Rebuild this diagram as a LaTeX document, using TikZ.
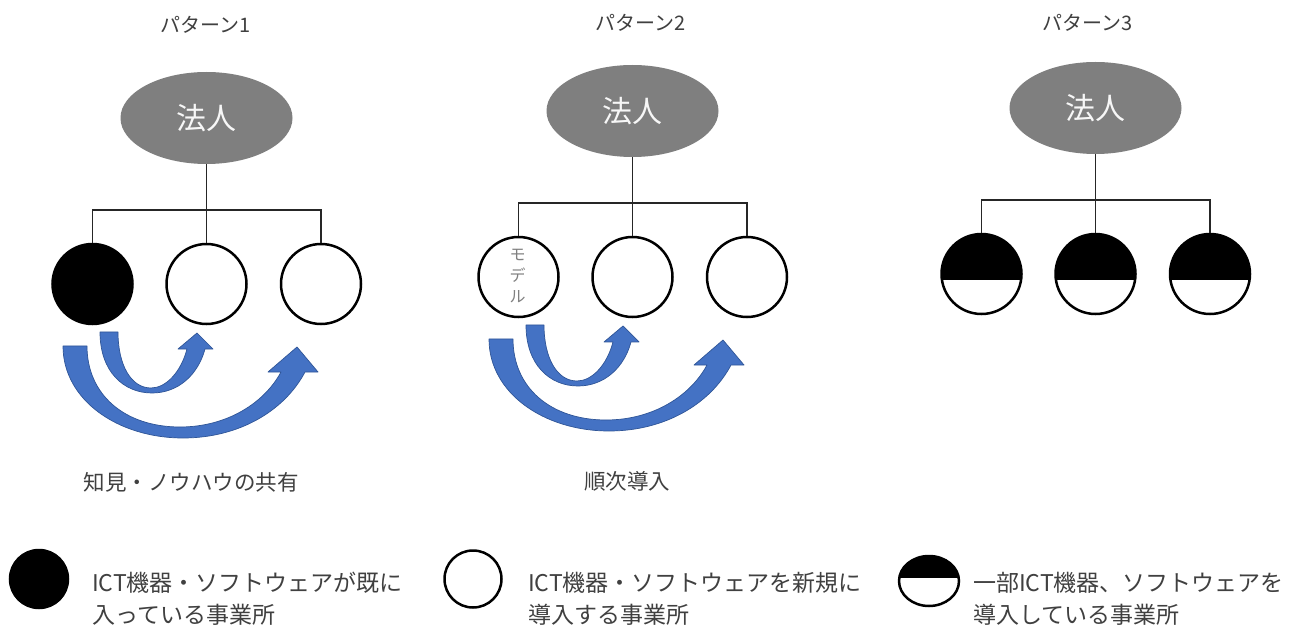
\documentclass[tikz,border=0pt]{standalone}
\usepackage{fontspec}
\setmainfont{Noto Sans CJK JP}
\usetikzlibrary{shapes.geometric}
\definecolor{txt}{HTML}{404040}
\definecolor{hgray}{HTML}{7F7F7F}
\definecolor{abl}{HTML}{4472C4}
\definecolor{abd}{HTML}{2F5597}
\tikzset{
  hojin/.style={ellipse, fill=hgray, minimum width=172pt, minimum height=92pt, inner sep=0pt,
    text=white!94!gray, font=\fontsize{30}{30}\selectfont},
  site/.style={circle, draw=black, line width=2.5pt, minimum size=80pt, inner sep=0pt, fill=white},
  sitefull/.style={site, fill=black},
  sitehalf/.style={site, path picture={\fill[black] ([yshift=-6pt]path picture bounding box.east) rectangle (path picture bounding box.north west);}},
  link/.style={draw=black!85, line width=1.4pt},
  curved/.style={fill=abl, draw=abd, line width=0.7pt, line join=round},
  ptitle/.style={text=txt, font=\fontsize{20}{20}\selectfont},
  pcaption/.style={text=txt, font=\fontsize{21.5}{22}\selectfont},
  legtext/.style={text=txt, anchor=west, align=left, inner sep=0pt, font=\fontsize{23}{32}\selectfont},
}
\begin{document}
\begin{tikzpicture}[x=1pt,y=-1pt]
\fill[white] (0,0) rectangle (1304,628);
\useasboundingbox (0,0) rectangle (1304,628);

% titles
\node[ptitle] (T1) at (206,25) {パターン1};
\node[ptitle] (T2) at (641,23) {パターン2};
\node[ptitle] (T3) at (1088,23) {パターン3};

% ---------- pattern 1 ----------
\begin{scope}
  \node[hojin] (E1) at (206.5,118) {法人};
  \node[sitefull] (A1) at (92.5,284) {};
  \node[site] (B1) at (206.5,284) {};
  \node[site] (C1) at (321,284) {};
  \coordinate (J1) at (206.5,210);
  \draw[link] (E1.south) -- (B1.north);
  \draw[link] (A1.north) |- (J1) -| (C1.north);
  \path[curved] (63,346) .. controls (63,400) and (118,438) .. (183,438)
     .. controls (240,438) and (285,410) .. (305,372) -- (318,372) -- (297,347) -- (268,372) -- (281,372)
     .. controls (265,402) and (228,427) .. (180,427)
     .. controls (125,427) and (87,395) .. (87,346) -- cycle;
  \path[curved] (100,332) .. controls (100,372) and (124,393) .. (152,393)
     .. controls (178,393) and (198,375) .. (205,349) -- (213,349) -- (197,333) -- (178,349) -- (187,349)
     .. controls (181,372) and (166,388) .. (151,388)
     .. controls (131,388) and (118,365) .. (118,332) -- cycle;
\end{scope}
\node[pcaption] (K1) at (191,482) {知見・ノウハウの共有};

% ---------- pattern 2 ----------
\begin{scope}[shift={(426,-7)}]
  \node[hojin] (E2) at (206.5,118) {法人};
  \node[site] (A2) at (92.5,284) {};
  \node[site] (B2) at (206.5,284) {};
  \node[site] (C2) at (321,284) {};
  \coordinate (J2) at (206.5,210);
  \draw[link] (E2.south) -- (B2.north);
  \draw[link] (A2.north) |- (J2) -| (C2.north);
  \node[text=black!50, align=center, inner sep=0pt, font=\fontsize{16}{21}\selectfont] (M2) at (91.5,283) {モ\\デ\\ル};
  \path[curved] (63,346) .. controls (63,400) and (118,438) .. (183,438)
     .. controls (240,438) and (285,410) .. (305,372) -- (318,372) -- (297,347) -- (268,372) -- (281,372)
     .. controls (265,402) and (228,427) .. (180,427)
     .. controls (125,427) and (87,395) .. (87,346) -- cycle;
  \path[curved] (100,332) .. controls (100,372) and (124,393) .. (152,393)
     .. controls (178,393) and (198,375) .. (205,349) -- (213,349) -- (197,333) -- (178,349) -- (187,349)
     .. controls (181,372) and (166,388) .. (151,388)
     .. controls (131,388) and (118,365) .. (118,332) -- cycle;
\end{scope}
\node[pcaption] (K2) at (627,481) {順次導入};

% ---------- pattern 3 ----------
\begin{scope}[shift={(889,-10)}]
  \node[hojin] (E3) at (206.5,118) {法人};
  \node[sitehalf] (A3) at (92.5,284) {};
  \node[sitehalf] (B3) at (206.5,284) {};
  \node[sitehalf] (C3) at (321,284) {};
  \coordinate (J3) at (206.5,210);
  \draw[link] (E3.south) -- (B3.north);
  \draw[link] (A3.north) |- (J3) -| (C3.north);
\end{scope}

% ---------- legend ----------
\node[sitefull, minimum size=58pt] (L1) at (39,579) {};
\node[legtext] (LT1) at (92,599) {ICT機器・ソフトウェアが既に\\入っている事業所};
\node[site, minimum size=57pt] (L2) at (473,579) {};
\node[legtext] (LT2) at (528,599) {ICT機器・ソフトウェアを新規に\\導入する事業所};
\node[ellipse, draw=black, line width=2.5pt, fill=white, minimum width=60pt, minimum height=50pt, inner sep=0pt,
  path picture={\fill[black] ([yshift=3pt]path picture bounding box.east) rectangle (path picture bounding box.north west);}] (L3) at (929,581) {};
\node[legtext] (LT3) at (973,599) {一部ICT機器、ソフトウェアを\\導入している事業所};
\end{tikzpicture}
\end{document}
